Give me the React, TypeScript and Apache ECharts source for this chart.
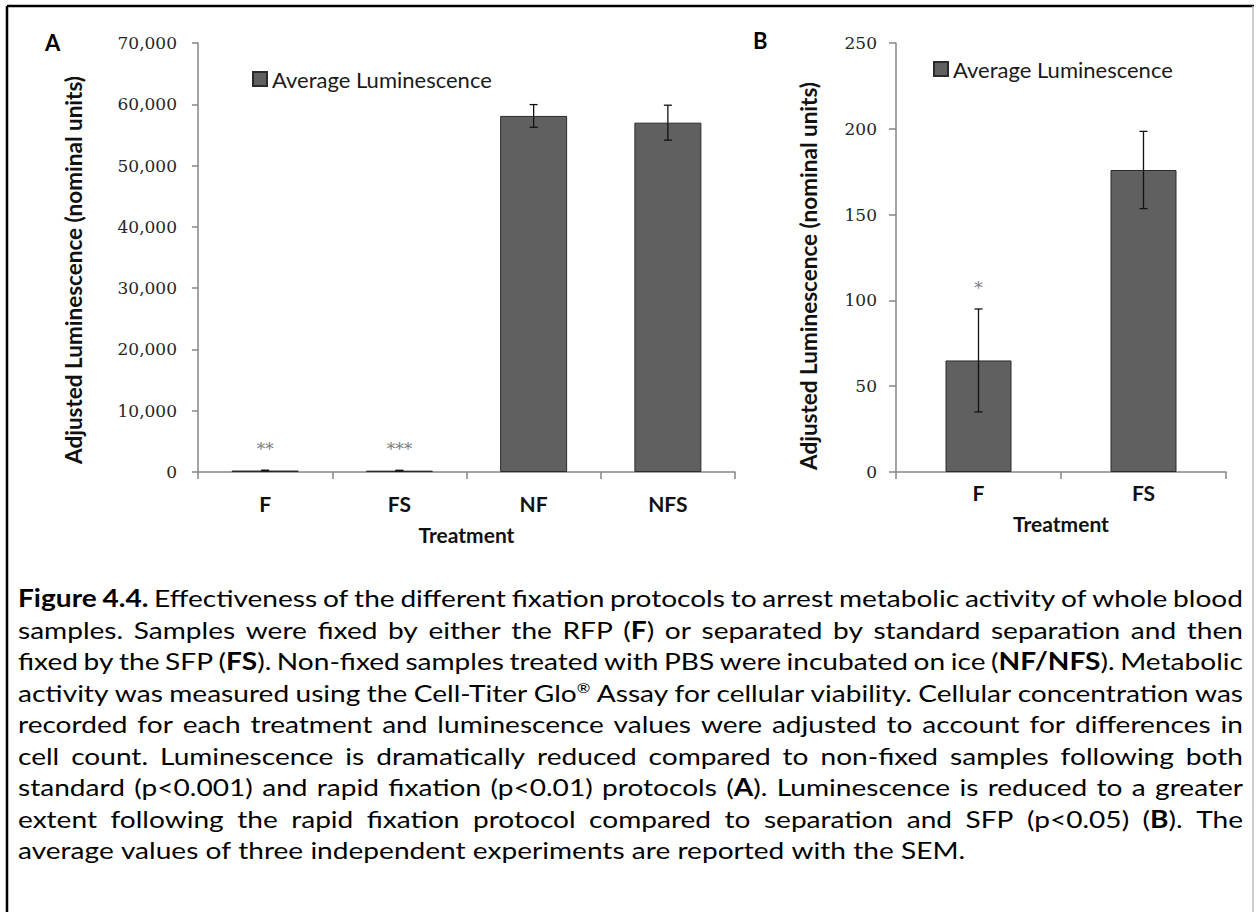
import React, { useEffect, useRef } from "react";
import * as echarts from "echarts";

// Panel A: four treatments, adjusted luminescence (nominal units)
const categoriesA = ["F", "FS", "NF", "NFS"];
const meansA = [240, 220, 58100, 57000];
const semA = [60, 60, 1850, 2850];
const starsA = ["**", "***", "", ""];
const maxA = 70000;
const stepA = 10000;

// Panel B: fixed samples only
const categoriesB = ["F", "FS"];
const meansB = [65, 176];
const semB = [30, 22.5];
const starsB = ["*", ""];
const maxB = 250;
const stepB = 50;

const seriesName = "Average Luminescence";
const yTitle = "Adjusted Luminescence (nominal units)";
const xTitle = "Treatment";

const captionLines = [
  "{b|Figure} {b|4.4.} Effectiveness of the different fixation protocols to arrest metabolic activity of whole blood",
  "samples. Samples were fixed by either the RFP ({b|F}) or separated by standard separation and then",
  "fixed by the SFP ({b|FS}). Non-fixed samples treated with PBS were incubated on ice ({b|NF/NFS}). Metabolic",
  "activity was measured using the Cell-Titer Glo{sup|®} Assay for cellular viability. Cellular concentration was",
  "recorded for each treatment and luminescence values were adjusted to account for differences in",
  "cell count. Luminescence is dramatically reduced compared to non-fixed samples following both",
  "standard (p<0.001) and rapid fixation (p<0.01) protocols ({b|A}). Luminescence is reduced to a greater",
  "extent following the rapid fixation protocol compared to separation and SFP (p<0.05) ({b|B}). The",
  "average values of three independent experiments are reported with the SEM.",
];

const SANS = "Lato";
const NUM = "DejaVu Serif";
const CAP_SIZE = 24;
const SUP_SIZE = 14;
const CAP_STRETCH = 1.17;
const CAP_LEFT = 18;
const CAP_RIGHT = 1243;
const CAP_TOP = 598;
const CAP_LEAD = 31.5;

function fmt(v: number) {
  return v.toLocaleString("en-US");
}

// split a marked-up word into styled runs
function runs(word: string) {
  const out: { style: string; text: string }[] = [];
  const re = /\{(\w+)\|([^}]*)\}/g;
  let last = 0;
  let m: RegExpExecArray | null;
  while ((m = re.exec(word))) {
    if (m.index > last) out.push({ style: "", text: word.slice(last, m.index) });
    out.push({ style: m[1], text: m[2] });
    last = re.lastIndex;
  }
  if (last < word.length) out.push({ style: "", text: word.slice(last) });
  return out;
}

// justified caption, one text element per word
function buildCaption() {
  const canvas = document.createElement("canvas");
  const ctx = canvas.getContext("2d")!;
  const fontFor = (style: string) =>
    style === "b"
      ? `bold ${CAP_SIZE}px ${SANS}`
      : style === "sup"
      ? `${SUP_SIZE}px ${SANS}`
      : `${CAP_SIZE}px ${SANS}`;
  const measure = (word: string) =>
    runs(word).reduce((s, r) => {
      ctx.font = fontFor(r.style);
      return s + ctx.measureText(r.text).width;
    }, 0);
  ctx.font = fontFor("");
  const space = ctx.measureText(" ").width;
  const width = CAP_RIGHT - CAP_LEFT;

  const measured = captionLines.map((line) => {
    const words = line.split(" ");
    const ws = words.map(measure);
    return { words, ws, total: ws.reduce((a, b) => a + b, 0) };
  });

  // keep at least a narrow gap between words on every justified line
  let stretch = CAP_STRETCH;
  measured.forEach((m, li) => {
    if (li === measured.length - 1) return;
    const fit = (width - (m.words.length - 1) * space * 0.8) / m.total;
    stretch = Math.min(stretch, fit);
  });

  const els: any[] = [];
  measured.forEach((m, li) => {
    const last = li === measured.length - 1;
    const gap = last
      ? space * stretch
      : (width - m.total * stretch) / (m.words.length - 1);
    let x = CAP_LEFT;
    const y = CAP_TOP + li * CAP_LEAD;
    m.words.forEach((w, wi) => {
      els.push({
        type: "text",
        x,
        y,
        scaleX: stretch,
        silent: true,
        style: {
          text: w,
          fontFamily: SANS,
          fontSize: CAP_SIZE,
          fill: "#000",
          align: "left",
          verticalAlign: "middle",
          rich: {
            b: { fontFamily: SANS, fontSize: CAP_SIZE, fontWeight: "bold", fill: "#000" },
            sup: { fontFamily: SANS, fontSize: SUP_SIZE, fill: "#000", verticalAlign: "top" },
          },
        },
      });
      x += m.ws[wi] * stretch + gap;
    });
  });
  return els;
}

function errorBars(stars: string[]) {
  return (params: any, api: any) => {
    const i = api.value(0);
    const m = api.value(1);
    const s = api.value(2);
    const top = api.coord([i, m + s]);
    const bot = api.coord([i, m - s]);
    const cap = 4;
    const line = { stroke: "#111", lineWidth: 1.3 };
    const children: any[] = [
      { type: "line", shape: { x1: top[0], y1: top[1], x2: bot[0], y2: bot[1] }, style: line },
      { type: "line", shape: { x1: top[0] - cap, y1: top[1], x2: top[0] + cap, y2: top[1] }, style: line },
      { type: "line", shape: { x1: bot[0] - cap, y1: bot[1], x2: bot[0] + cap, y2: bot[1] }, style: line },
    ];
    const star = stars[params.dataIndex];
    if (star) {
      children.push({
        type: "text",
        x: top[0],
        y: top[1] - 21,
        style: {
          text: star,
          fontFamily: NUM,
          fontSize: 17,
          fill: "#7a7a7a",
          align: "center",
          verticalAlign: "middle",
        },
      });
    }
    return { type: "group", children };
  };
}

const axisGray = "#868686";

function xAxisFor(grid: number, data: string[], margin: number, gap: number) {
  return {
    gridIndex: grid,
    type: "category",
    data,
    axisLine: { lineStyle: { color: axisGray, width: 1.5 } },
    axisTick: { show: true, length: 7, lineStyle: { color: axisGray, width: 1.5 } },
    axisLabel: { margin, fontFamily: SANS, fontWeight: "bold", fontSize: 21, color: "#111" },
    name: xTitle,
    nameLocation: "middle",
    nameGap: gap,
    nameTextStyle: { fontFamily: SANS, fontWeight: "bold", fontSize: 21, color: "#111" },
    splitLine: { show: false },
  };
}

function yAxisFor(grid: number, max: number, step: number, margin: number, tick: number) {
  return {
    gridIndex: grid,
    type: "value",
    min: 0,
    max,
    interval: step,
    axisLine: { show: true, lineStyle: { color: axisGray, width: 1.5 } },
    axisTick: { show: true, length: tick, lineStyle: { color: axisGray, width: 1.5 } },
    axisLabel: { margin, fontFamily: NUM, fontSize: 17, color: "#262626", formatter: (v: number) => fmt(v) },
    splitLine: { show: false },
  };
}

const barStyle = { color: "#606060", borderColor: "#2b2b2b", borderWidth: 1 };

const legendFor = (left: number, top: number) => ({
  data: [seriesName],
  left,
  top,
  padding: 0,
  itemWidth: 14,
  itemHeight: 14,
  icon: "rect",
  selectedMode: false,
  textStyle: { fontFamily: SANS, fontSize: 22, color: "#1a1a1a", lineHeight: 14 },
});

export default function App() {
  const ref = useRef<HTMLDivElement>(null);

  useEffect(() => {
    if (!ref.current) return;
    const chart = echarts.init(ref.current, null, { renderer: "svg" });

    const frame = [
      { type: "line", shape: { x1: 7, y1: 6, x2: 1254, y2: 6 }, style: { stroke: "#000", lineWidth: 2.5 } },
      { type: "line", shape: { x1: 7, y1: 6, x2: 7, y2: 912 }, style: { stroke: "#000", lineWidth: 2.5 } },
      { type: "line", shape: { x1: 1253, y1: 6, x2: 1253, y2: 912 }, style: { stroke: "#bdbdbd", lineWidth: 1.5 } },
    ];

    const titles = [
      { type: "text", x: 45, y: 42, style: { text: "A", fontFamily: SANS, fontWeight: "bold", fontSize: 22, fill: "#000", align: "left", verticalAlign: "middle" } },
      { type: "text", x: 753, y: 40, style: { text: "B", fontFamily: SANS, fontWeight: "bold", fontSize: 22, fill: "#000", align: "left", verticalAlign: "middle" } },
      { type: "text", x: 73, y: 270, rotation: Math.PI / 2, style: { text: yTitle, fontFamily: SANS, fontWeight: "bold", fontSize: 22.5, fill: "#111", align: "center", verticalAlign: "middle" } },
      { type: "text", x: 808, y: 276, rotation: Math.PI / 2, style: { text: yTitle, fontFamily: SANS, fontWeight: "bold", fontSize: 22.5, fill: "#111", align: "center", verticalAlign: "middle" } },
    ];

    chart.setOption({
      animation: false,
      backgroundColor: "#fff",
      grid: [
        { left: 198, top: 43, width: 537, height: 429 },
        { left: 896, top: 43, width: 330, height: 429 },
      ],
      legend: [legendFor(252, 68), legendFor(933, 58)],
      xAxis: [xAxisFor(0, categoriesA, 21, 52), xAxisFor(1, categoriesB, 10, 41)],
      yAxis: [yAxisFor(0, maxA, stepA, 21, 6), yAxisFor(1, maxB, stepB, 19, 7)],
      series: [
        { name: seriesName, type: "bar", xAxisIndex: 0, yAxisIndex: 0, barWidth: 67, data: meansA, itemStyle: barStyle },
        { name: seriesName, type: "bar", xAxisIndex: 1, yAxisIndex: 1, barWidth: 66, data: meansB, itemStyle: barStyle },
        {
          name: "SEM A",
          type: "custom",
          xAxisIndex: 0,
          yAxisIndex: 0,
          z: 5,
          renderItem: errorBars(starsA),
          encode: { x: 0, y: 1 },
          data: meansA.map((m, i) => [i, m, semA[i]]),
        },
        {
          name: "SEM B",
          type: "custom",
          xAxisIndex: 1,
          yAxisIndex: 1,
          z: 5,
          renderItem: errorBars(starsB),
          encode: { x: 0, y: 1 },
          data: meansB.map((m, i) => [i, m, semB[i]]),
        },
      ],
      graphic: [...frame, ...titles, ...buildCaption()],
    });

    return () => chart.dispose();
  }, []);

  return (
    <div
      ref={ref}
      style={{ position: "absolute", left: 0, top: 0, width: 1257, height: 912, background: "#fff" }}
    />
  );
}
